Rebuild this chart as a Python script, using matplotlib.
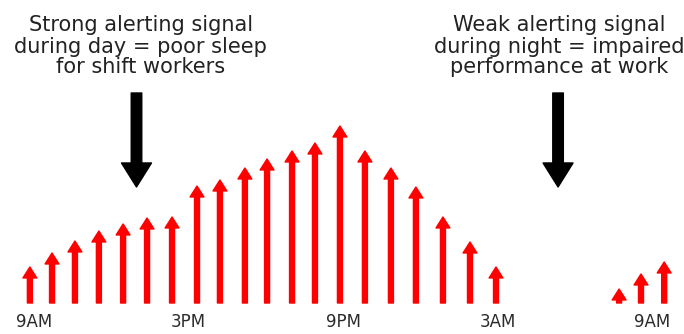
import matplotlib.pyplot as plt

# hours after 9AM for each red arrow, and its height (alerting signal, arbitrary units)
hours = [-0.16, 0.70, 1.59, 2.52, 3.46, 4.39, 5.36, 6.33, 7.22, 8.19, 9.05, 10.02,
         10.91, 11.88, 12.85, 13.86, 14.83, 15.88, 16.93, 17.94, 22.72, 23.57, 24.47]
signal = [36, 50, 62, 72, 79, 85, 86, 117, 123, 135, 144, 152,
          160, 177, 152, 135, 116, 86, 61, 36, 14, 29, 41]

tick_hours = [0, 6, 12, 18, 24]
tick_labels = ['9AM', '3PM', '9PM', '3AM', '9AM']

# black "problem" arrows: position, top and tip
note_hours = [3.98, 20.35]
note_top = 210
note_tip = 116
notes = [['Strong alerting signal', 'during day = poor sleep', 'for shift workers'],
         ['Weak alerting signal', 'during night = impaired', 'performance at work']]
note_x = [4.15, 20.4]

fig = plt.figure(figsize=(6.84, 3.34), dpi=100)
ax = fig.add_axes([0, 0, 1, 1])
ax.set_xlim(-1.32, 25.24)
ax.set_ylim(-31, 303)
ax.axis('off')

red_style = 'simple,head_length=0.79,head_width=1.0,tail_width=0.36'
for h, s in zip(hours, signal):
    ax.annotate('', xy=(h, s), xytext=(h, 0),
                arrowprops=dict(arrowstyle=red_style, mutation_scale=10,
                                color='#ff0000', shrinkA=0, shrinkB=0))

black_style = 'simple,head_length=1.73,head_width=2.16,tail_width=0.76'
for h in note_hours:
    ax.annotate('', xy=(h, note_tip), xytext=(h, note_top),
                arrowprops=dict(arrowstyle=black_style, mutation_scale=10,
                                color='black', shrinkA=0, shrinkB=0))

# text above the arrows, one line at a time (tight line spacing)
line_y = [272, 250, 230]
for x, lines in zip(note_x, notes):
    for y, line in zip(line_y, lines):
        ax.text(x, y, line, ha='center', va='baseline', fontsize=15,
                family='DejaVu Sans', color='#222222')

for h, lab in zip(tick_hours, tick_labels):
    ax.text(h, -24, lab, ha='center', va='baseline', fontsize=12,
            family='DejaVu Sans', color='#2b2b2b')

fig.savefig('out.png', dpi=100)
